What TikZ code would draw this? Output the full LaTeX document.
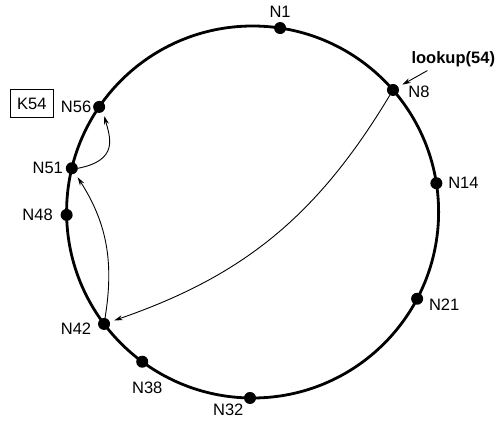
\documentclass[tikz,border=0pt]{standalone}
\usepackage{fontspec}
\setmainfont{Liberation Sans}
\usetikzlibrary{arrows.meta,calc,positioning}
\tikzset{
    x=1pt,y=1pt,
    ring/.style = {line width=2.8pt},
    dot/.style = {circle, fill, inner sep=0pt, minimum size=12pt},
    lbl/.style = {inner sep=0pt, font=\fontsize{16.5}{18}\selectfont},
    hop/.style = {-{Stealth[length=8.5pt,width=5pt]}, line width=0.9pt, shorten >=4.5pt},
    keybox/.style = {draw, line width=1pt, inner sep=0pt, minimum width=43pt, minimum height=28pt}
}

\begin{document}
\begin{tikzpicture}
    \useasboundingbox (0,0) rectangle (502,423);
    \coordinate (c) at (252.6,211);
    \draw[ring] (c) circle[radius=186pt];

    % nodes on the ring
    \node[dot] (n1)  at ($(c)+(81.5:186pt)$) {};
    \node[dot] (n8)  at ($(c)+(41:186pt)$) {};
    \node[dot] (n14) at ($(c)+(8.9:186pt)$) {};
    \node[dot] (n21) at ($(c)+(-27.8:186pt)$) {};
    \node[dot] (n32) at ($(c)+(-90.8:186pt)$) {};
    \node[dot] (n38) at ($(c)+(-126.4:186pt)$) {};
    \node[dot] (n42) at ($(c)+(-143:186pt)$) {};
    \node[dot] (n48) at ($(c)+(180.9:186pt)$) {};
    \node[dot] (n51) at ($(c)+(166.4:186pt)$) {};
    \node[dot] (n56) at ($(c)+(145.6:186pt)$) {};

    % labels
    \node[lbl] (l1)  [above=4pt of n1] {N1};
    \node[lbl] (l8)  [right=9pt of n8,yshift=-2pt] {N8};
    \node[lbl] (l14) [right=5.5pt of n14] {N14};
    \node[lbl] (l21) [right=5.5pt of n21,yshift=-6pt] {N21};
    \node[lbl] (l32) [below left=1pt and 2pt of n32] {N32};
    \node[lbl] (l38) [below=14pt of n38,xshift=5pt] {N38};
    \node[lbl] (l42) [left=6.5pt of n42,yshift=-5pt] {N42};
    \node[lbl] (l48) [left=7.5pt of n48] {N48};
    \node[lbl] (l51) [left=2.5pt of n51] {N51};
    \node[lbl] (l56) [left=1.5pt of n56] {N56};
    \node[keybox,lbl,inner sep=0pt] (k54) [left=7pt of l56,yshift=3pt] {K54};
    \node[lbl,font=\fontsize{16.5}{18}\selectfont\bfseries] (lookup) [above right=18pt and 14pt of n8] {lookup(54)};

    % lookup path
    \draw[hop] ([xshift=16pt,yshift=-3pt]lookup.south west) -- (n8);
    \path (n8) edge[hop,bend left=20] (n42);
    \path (n42) edge[hop,bend right=21] (n51);
    \draw[hop] (n51.east) .. controls +(41pt,8pt) and +(7pt,-26pt) .. (n56.-50);
\end{tikzpicture}
\end{document}
